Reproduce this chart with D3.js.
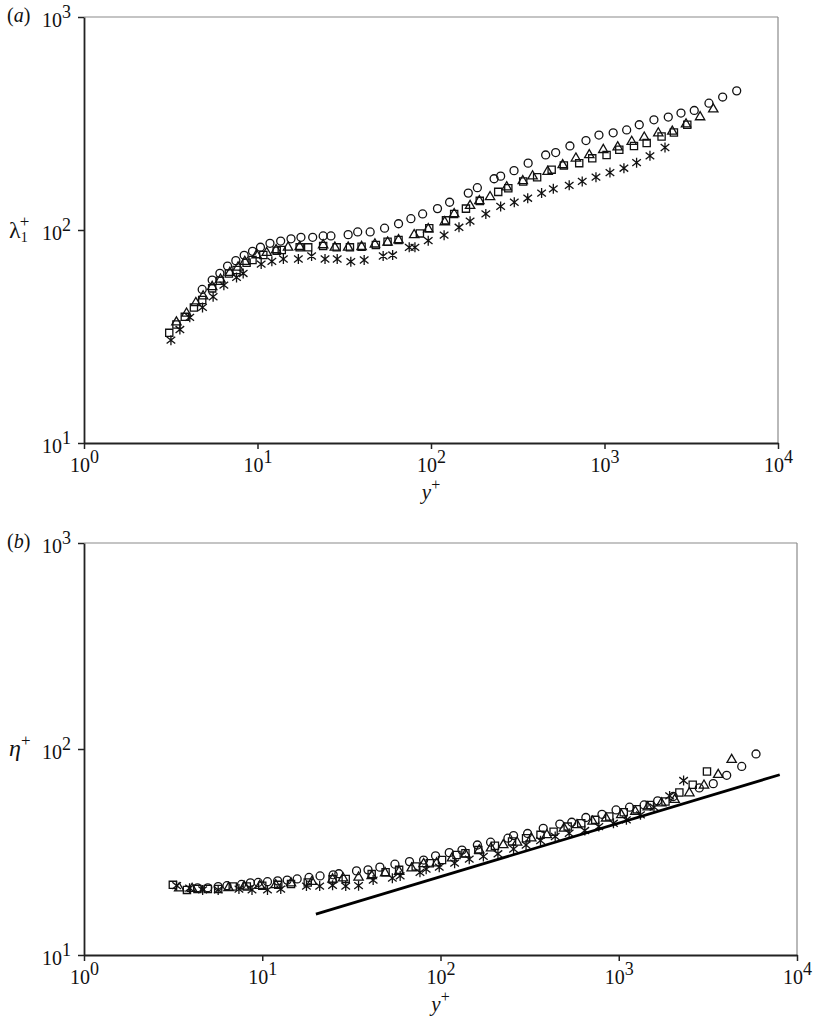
<!DOCTYPE html>
<html>
<head>
<meta charset="utf-8">
<script src="https://cdn.jsdelivr.net/npm/d3@7"></script>
<style>
  body { margin: 0; background: #fff; }
  svg { display: block; }
  text { font-family: 'Liberation Serif', 'Times New Roman', serif; fill: #111; }
</style>
</head>
<body>
<svg id="chart" width="814" height="1018"></svg>
<script>
// ---------------- data ----------------
const xTicks = [1, 10, 100, 1000, 10000];
const yTicks = [10, 100, 1000];
const xTickExp = ["0", "1", "2", "3", "4"];
const yTickExp = ["1", "2", "3"];

// panel (a): lambda_1^+ vs y^+
const topCircles = [[4.80,52.6],[5.48,58.2],[6.07,62.6],[6.72,67.7],[7.50,71.8],[8.38,76.1],[9.36,79.4],[10.4,83.0],[11.8,86.6],[13.6,88.7],[15.6,90.9],[17.8,92.4],[20.8,92.4],[23.9,93.8],[26.5,93.8],[33.3,95.1],[37.8,97.9],[44.6,97.9],[54.0,102],[65.0,107],[76.6,113],[89.5,119],[109,126],[128,135],[164,149],[185,158],[231,174],[252,179],[301,190],[363,206],[458,225],[523,231],[632,248],[782,263],[929,279],[1122,286],[1342,295],[1586,312],[1927,329],[2331,339],[2760,354],[3291,364],[4000,394],[4798,421],[5780,450]];
const topTriangles = [[3.41,36.9],[3.90,40.6],[4.41,45.5],[4.86,48.9],[5.48,54.1],[6.12,58.6],[6.93,63.0],[7.73,66.8],[8.45,71.0],[9.88,76.3],[11.3,78.2],[12.8,80.5],[15.0,82.9],[17.5,83.4],[23.9,85.0],[27.9,82.9],[33.3,82.9],[39.8,83.4],[47.5,85.7],[56.2,87.5],[65.0,89.7],[80.0,94.8],[96.4,101],[120,109],[136,119],[168,130],[190,137],[219,143],[273,159],[338,170],[385,179],[470,188],[574,202],[684,217],[817,225],[984,238],[1191,245],[1435,260],[1695,272],[2042,285],[2459,290],[2951,314],[3556,339],[4236,369]];
const topSquares = [[3.10,32.9],[3.41,36.0],[3.81,39.1],[4.30,43.3],[4.80,46.9],[5.48,53.2],[6.07,57.8],[6.84,62.5],[7.57,64.9],[8.65,70.2],[9.36,72.3],[10.8,76.3],[12.9,80.0],[13.8,80.5],[17.5,82.9],[19.6,82.9],[23.9,84.1],[28.6,82.9],[34.1,82.9],[39.8,83.4],[48.1,85.0],[56.2,88.1],[65.0,89.7],[86.3,96.4],[97.7,102],[122,111],[136,119],[159,126],[191,137],[244,151],[279,157],[340,169],[409,177],[496,192],[583,201],[715,206],[850,217],[1028,225],[1217,238],[1479,248],[1750,256],[2133,275],[2512,287],[3000,312]];
const topStars = [[3.17,30.4],[3.57,34.1],[4.07,38.9],[4.82,43.3],[5.55,48.6],[6.40,55.1],[7.57,59.9],[8.27,62.5],[10.5,69.2],[12.1,71.3],[14.1,73.1],[17.2,73.1],[20.5,75.5],[24.5,73.1],[28.8,73.1],[34.5,71.0],[41.2,72.3],[53.0,75.5],[60.1,76.3],[74.9,82.9],[80.8,82.9],[96.4,89.1],[119,94.6],[145,103],[168,110],[207,119],[252,129],[302,135],[361,141],[434,149],[507,156],[626,162],[744,169],[893,177],[1075,186],[1294,195],[1531,207],[1828,223],[2232,244]];

// panel (b): eta^+ vs y^+
const botCircles = [[4.33,21.2],[4.95,21.2],[5.66,21.5],[6.34,21.7],[7.65,22.0],[8.58,22.4],[9.49,22.5],[10.7,22.7],[12.2,22.9],[13.8,23.1],[15.7,23.4],[18.3,23.8],[21.1,24.2],[25.0,24.5],[26.9,24.8],[33.8,25.6],[39.2,25.9],[45.7,26.7],[55.5,27.6],[67.0,28.4],[80.4,28.9],[93.8,30.3],[112,31.4],[132,32.3],[161,34.2],[191,35.3],[239,36.9],[257,38.0],[308,38.9],[377,41.2],[467,43.2],[545,44.1],[654,46.5],[805,48.2],[966,50.6],[1150,52.2],[1388,53.5],[1653,56.0],[2022,58.8],[2830,64.7],[3390,67.9],[4033,74.5],[4896,82.3],[5890,94.6]];
const botTriangles = [[3.42,21.1],[4.04,21.0],[6.47,21.2],[7.92,21.5],[9.69,21.7],[11.9,21.9],[14.5,22.3],[19.0,22.7],[24.8,23.3],[28.4,23.6],[34.7,23.8],[41.1,24.2],[48.9,25.0],[58.6,25.4],[68.9,26.4],[80.4,27.7],[95.1,27.9],[116,29.5],[138,30.8],[165,32.3],[192,33.0],[225,34.2],[269,35.2],[323,36.9],[395,38.3],[493,41.2],[583,42.8],[713,44.5],[849,46.1],[1033,47.9],[1239,49.7],[1455,52.2],[1733,54.6],[2060,56.7],[2489,61.1],[3008,66.6],[3614,75.0],[4300,88.7]];
const botSquares = [[3.15,21.9],[3.78,20.7],[4.33,20.9],[4.95,20.9],[5.66,20.9],[6.83,21.5],[8.19,21.5],[10.0,21.7],[12.3,21.9],[14.5,22.1],[18.0,22.5],[24.8,23.3],[29.4,23.4],[41.1,24.7],[49.2,25.2],[58.6,25.9],[72.6,26.9],[87.1,27.9],[102,28.9],[123,30.6],[138,31.2],[163,32.3],[202,33.9],[252,35.6],[302,36.9],[364,38.3],[431,39.7],[517,42.0],[616,43.6],[738,45.3],[885,47.0],[1067,49.3],[1262,51.0],[1494,53.5],[1829,55.6],[2188,61.5],[2600,67.1],[3126,77.8]];
const botStars = [[3.31,21.7],[3.91,21.1],[4.63,20.7],[5.66,20.7],[7.40,20.9],[8.76,20.7],[10.7,20.7],[12.7,20.9],[17.7,21.6],[21.0,21.6],[24.8,21.8],[29.4,21.6],[34.7,21.7],[41.9,23.1],[53.7,23.6],[59.4,24.2],[76.7,25.2],[83.1,26.1],[98.4,26.7],[120,27.9],[145,29.2],[174,30.1],[210,31.0],[257,32.7],[302,34.2],[364,35.9],[440,37.6],[527,39.0],[645,40.2],[773,42.0],[934,43.6],[1104,45.3],[1324,47.9],[1577,52.2],[1929,59.2],[2311,70.3]];
const slopeLine = [[20, 15.8], [8000, 75]];

// ---------------- drawing ----------------
const svg = d3.select("#chart");
svg.append("rect").attr("width", 814).attr("height", 1018).attr("fill", "#fff");

const starPath = "M0,-5V5M-4.3,-3.4L4.3,3.4M-4.3,3.4L4.3,-3.4";
const symCircle = d3.symbol().type(d3.symbolCircle).size(50)();
const symSquare = d3.symbol().type(d3.symbolSquare).size(52)();
const symTri = d3.symbol().type(d3.symbolTriangle).size(38)();

function panel(cfg) {
  const x = d3.scaleLog().domain([1, 10000]).range([cfg.x0, cfg.x1]);
  const y = d3.scaleLog().domain([10, 1000]).range([cfg.y1, cfg.y0]);
  const g = svg.append("g");

  // top & right frame (grey)
  g.append("line").attr("x1", x(1)).attr("x2", x(10000)).attr("y1", y(1000)).attr("y2", y(1000))
    .attr("stroke", "#8a8a8a").attr("stroke-width", 1.2);
  g.append("line").attr("x1", x(10000)).attr("x2", x(10000)).attr("y1", y(1000)).attr("y2", y(10))
    .attr("stroke", "#8a8a8a").attr("stroke-width", 1.2);

  // axes
  const xa = g.append("g").attr("transform", `translate(0,${y(10)})`)
    .call(d3.axisBottom(x).tickValues(xTicks).tickFormat("").tickSize(6).tickSizeOuter(0));
  const ya = g.append("g").attr("transform", `translate(${x(1)},0)`)
    .call(d3.axisLeft(y).tickValues(yTicks).tickFormat("").tickSize(6).tickSizeOuter(0));
  [xa, ya].forEach(a => {
    a.attr("font-family", null).attr("font-size", null);
    a.select(".domain").attr("stroke", "#222").attr("stroke-width", 1.8);
    a.selectAll(".tick line").attr("stroke", "#222").attr("stroke-width", 1.5);
  });
  xa.selectAll(".tick").each(function(d, i) {
    const t = d3.select(this).append("text").attr("x", 0).attr("y", 29)
      .attr("text-anchor", "middle").style("font-size", "20px").attr("fill", "#111");
    t.append("tspan").text("10");
    t.append("tspan").attr("dy", -9).style("font-size", "18px").text(xTickExp[i]);
  });
  ya.selectAll(".tick").each(function(d, i) {
    const t = d3.select(this).append("text").attr("x", -13).attr("y", 9)
      .attr("text-anchor", "end").style("font-size", "20px").attr("fill", "#111");
    t.append("tspan").text("10");
    t.append("tspan").attr("dy", -9).style("font-size", "18px").text(yTickExp[i]);
  });

  // panel tag
  const tag = g.append("text").attr("x", 7).attr("y", y(1000) + 5).style("font-size", "20px");
  tag.append("tspan").text("(");
  tag.append("tspan").attr("font-style", "italic").text(cfg.tag);
  tag.append("tspan").text(")");

  // x label
  const xl = g.append("text").attr("x", x(100)).attr("y", y(10) + 56)
    .attr("text-anchor", "middle").style("font-size", "21px");
  xl.append("tspan").attr("font-style", "italic").text("y");
  xl.append("tspan").attr("dy", -9).style("font-size", "16px").text("+");

  // markers
  const drawSet = (data, path) => {
    g.append("g").selectAll("path").data(data).join("path")
      .attr("d", path)
      .attr("transform", d => `translate(${x(d[0])},${y(d[1])})`)
      .attr("fill", "none").attr("stroke", "#111").attr("stroke-width", 1.3);
  };
  drawSet(cfg.circles, symCircle);
  drawSet(cfg.squares, symSquare);
  drawSet(cfg.triangles, symTri);
  drawSet(cfg.stars, starPath);
  return { g, x, y };
}

const A = panel({ x0: 84, x1: 778, y0: 17, y1: 443, tag: "a",
  circles: topCircles, squares: topSquares, triangles: topTriangles, stars: topStars });
const B = panel({ x0: 84, x1: 797, y0: 543, y1: 955, tag: "b",
  circles: botCircles, squares: botSquares, triangles: botTriangles, stars: botStars });

// y-axis labels (single text elements with sub/superscripts)
const la = A.g.append("text").attr("x", 9).attr("y", A.y(100) + 8).style("font-size", "24px");
la.append("tspan").text("λ");
la.append("tspan").attr("dy", 4).style("font-size", "14px").text("1");
la.append("tspan").attr("dx", -8).attr("dy", -15).style("font-size", "17px").text("+");

const lb = B.g.append("text").attr("x", 9).attr("y", B.y(100) + 7).style("font-size", "24px");
lb.append("tspan").attr("font-style", "italic").text("η");
lb.append("tspan").attr("dy", -10).style("font-size", "17px").text("+");

// reference line in (b)
B.g.append("path").datum(slopeLine)
  .attr("d", d3.line().x(d => B.x(d[0])).y(d => B.y(d[1])))
  .attr("fill", "none").attr("stroke", "#000").attr("stroke-width", 2.8);
</script>
</body>
</html>
